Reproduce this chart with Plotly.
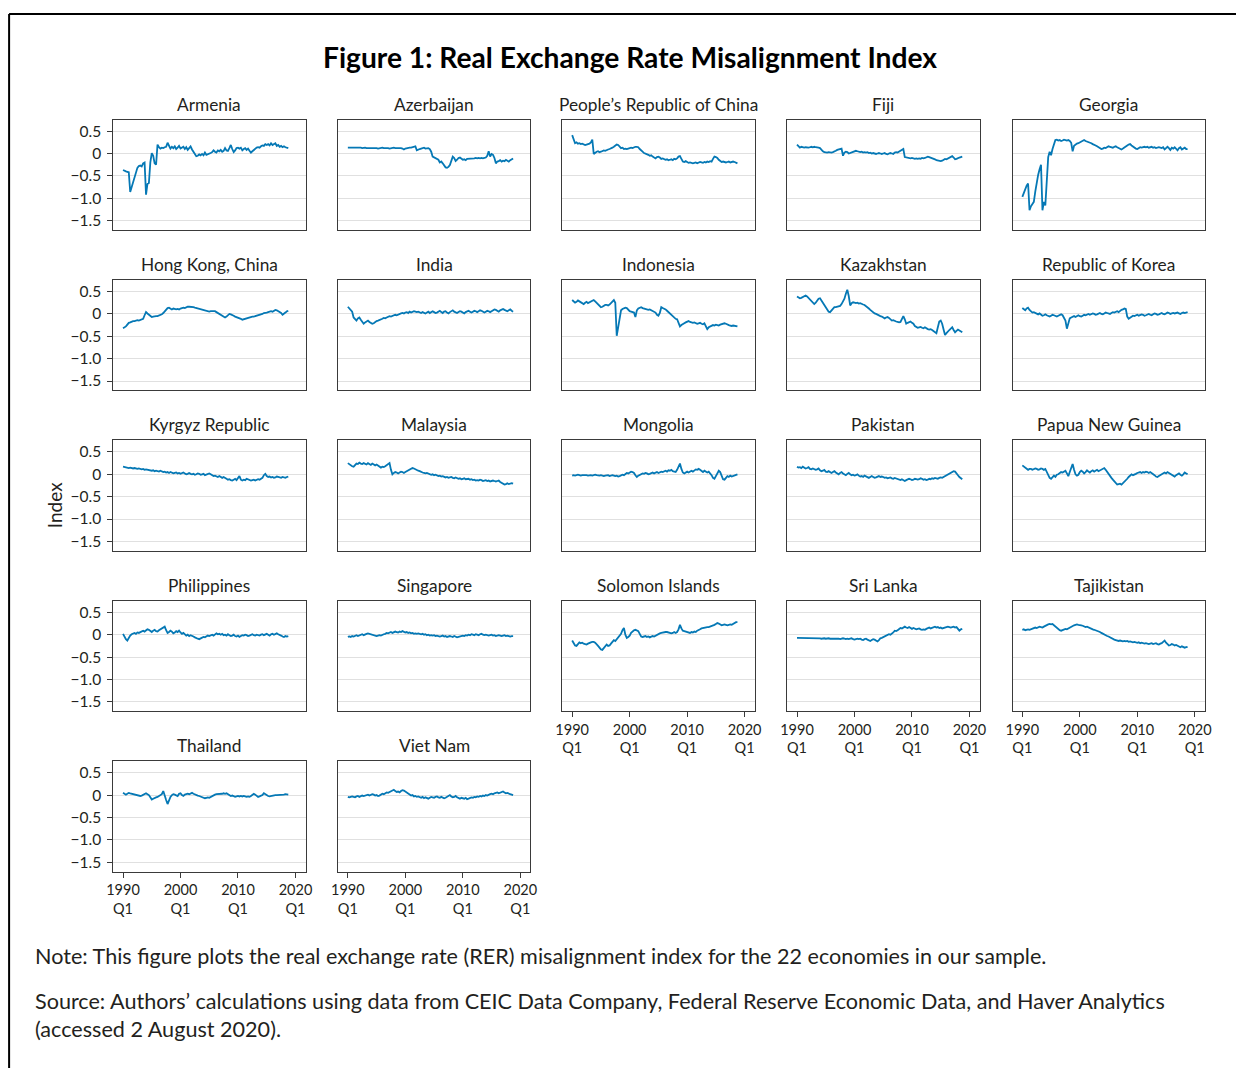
import plotly.graph_objects as go

W, H = 1243, 1068
# horizontal placement: page x = PAGE_X0 + PAGE_SX * figure x
PAGE_X0 = 7.9
PAGE_SX = 0.9873

# Quarterly periods 1990Q1 .. 2018Q4
periods = [f"{y}Q{q}" for y in range(1990, 2019) for q in range(1, 5)]

economies = [
    "Armenia", "Azerbaijan", "People’s Republic of China", "Fiji", "Georgia",
    "Hong Kong, China", "India", "Indonesia", "Kazakhstan", "Republic of Korea",
    "Kyrgyz Republic", "Malaysia", "Mongolia", "Pakistan", "Papua New Guinea",
    "Philippines", "Singapore", "Solomon Islands", "Sri Lanka", "Tajikistan",
    "Thailand", "Viet Nam",
]

armenia = [
    -0.37, -0.39, -0.40, -0.41, -0.42, -0.86, -0.75, -0.67, -0.55, -0.42, -0.32, -0.28,
    -0.27, -0.29, -0.22, -0.20, -0.92, -0.68, -0.66, -0.20, 0.01, -0.05, -0.22, -0.25,
    0.20, 0.14, 0.11, 0.13, 0.12, 0.14, 0.15, 0.24, 0.16, 0.11, 0.15, 0.12,
    0.16, 0.10, 0.13, 0.17, 0.11, 0.13, 0.15, 0.10, 0.14, 0.08, 0.12, 0.16,
    0.09, 0.04, -0.03, -0.06, -0.05, -0.02, -0.04, -0.01, -0.04, 0.02, -0.03, -0.02,
    0.00, 0.01, 0.03, 0.07, 0.04, 0.02, 0.07, 0.05, 0.08, 0.04, 0.06, 0.12,
    0.07, 0.06, 0.12, 0.19, 0.10, 0.03, 0.07, 0.12, 0.13, 0.11, 0.13, 0.07,
    0.10, 0.12, 0.08, 0.11, 0.06, 0.02, 0.05, 0.08, 0.10, 0.13, 0.14, 0.13,
    0.16, 0.18, 0.17, 0.21, 0.19, 0.21, 0.18, 0.23, 0.19, 0.21, 0.23, 0.17,
    0.19, 0.15, 0.17, 0.14, 0.16, 0.14, 0.13, 0.12,
]
azerbaijan = [
    0.13, 0.13, 0.13, 0.14, 0.13, 0.13, 0.13, 0.14, 0.13, 0.13, 0.12, 0.13,
    0.13, 0.12, 0.12, 0.13, 0.12, 0.12, 0.13, 0.13, 0.12, 0.11, 0.12, 0.13,
    0.13, 0.12, 0.12, 0.13, 0.12, 0.11, 0.12, 0.12, 0.13, 0.12, 0.12, 0.13,
    0.12, 0.12, 0.11, 0.09, 0.11, 0.12, 0.12, 0.13, 0.13, 0.14, 0.15, 0.16,
    0.07, 0.09, 0.10, 0.11, 0.12, 0.13, 0.11, 0.12, 0.12, 0.10, 0.04, -0.07,
    -0.09, -0.11, -0.13, -0.14, -0.20, -0.18, -0.22, -0.28, -0.31, -0.32, -0.30, -0.26,
    -0.15, -0.07, -0.10, -0.17, -0.14, -0.10, -0.09, -0.12, -0.14, -0.13, -0.15, -0.12,
    -0.12, -0.11, -0.11, -0.12, -0.11, -0.10, -0.11, -0.10, -0.11, -0.10, -0.11, -0.10,
    -0.09, -0.05, 0.05, -0.07, -0.01, -0.03, -0.10, -0.22, -0.18, -0.17, -0.15, -0.18,
    -0.16, -0.17, -0.14, -0.16, -0.18, -0.15, -0.13, -0.11,
]
prc = [
    0.41, 0.33, 0.23, 0.25, 0.22, 0.23, 0.21, 0.22, 0.20, 0.19, 0.20, 0.21,
    0.22, 0.25, 0.31, -0.01, 0.02, 0.04, 0.05, 0.03, 0.04, 0.05, 0.07, 0.06,
    0.08, 0.09, 0.10, 0.11, 0.13, 0.15, 0.17, 0.20, 0.19, 0.14, 0.12, 0.13,
    0.10, 0.11, 0.10, 0.11, 0.12, 0.13, 0.12, 0.14, 0.15, 0.15, 0.14, 0.10,
    0.06, 0.04, 0.01, 0.00, -0.02, -0.03, -0.05, -0.04, -0.07, -0.10, -0.11, -0.08,
    -0.07, -0.09, -0.12, -0.11, -0.13, -0.14, -0.13, -0.15, -0.14, -0.13, -0.15, -0.12,
    -0.13, -0.11, -0.07, -0.06, -0.12, -0.18, -0.19, -0.17, -0.19, -0.21, -0.20, -0.21,
    -0.22, -0.21, -0.20, -0.22, -0.21, -0.19, -0.20, -0.21, -0.19, -0.20, -0.18, -0.19,
    -0.17, -0.18, -0.12, -0.07, -0.08, -0.10, -0.14, -0.17, -0.19, -0.18, -0.19, -0.20,
    -0.19, -0.18, -0.20, -0.19, -0.18, -0.19, -0.21, -0.22,
]
fiji = [
    0.20, 0.15, 0.13, 0.15, 0.14, 0.13, 0.14, 0.13, 0.13, 0.14, 0.15, 0.14,
    0.15, 0.14, 0.14, 0.13, 0.12, 0.08, 0.05, 0.03, 0.02, 0.02, 0.03, 0.02,
    0.02, 0.03, 0.04, 0.06, 0.08, 0.09, 0.10, 0.11, -0.05, 0.02, 0.04, 0.03,
    0.00, 0.01, 0.02, 0.04, 0.05, 0.06, 0.05, 0.04, 0.03, 0.04, 0.02, 0.03,
    0.02, 0.03, 0.01, 0.02, 0.00, 0.01, 0.00, -0.01, 0.00, 0.01, 0.00, -0.01,
    0.00, 0.01, -0.01, -0.02, 0.00, 0.01, 0.00, -0.01, 0.02, 0.03, 0.02, 0.04,
    0.06, 0.08, 0.10, -0.08, -0.09, -0.10, -0.10, -0.11, -0.10, -0.11, -0.12, -0.11,
    -0.12, -0.11, -0.12, -0.10, -0.11, -0.10, -0.08, -0.07, -0.08, -0.09, -0.11, -0.12,
    -0.13, -0.15, -0.16, -0.17, -0.17, -0.16, -0.13, -0.12, -0.13, -0.11, -0.09, -0.07,
    -0.06, -0.09, -0.13, -0.12, -0.10, -0.09, -0.08, -0.07,
]
georgia = [
    -0.97, -0.88, -0.80, -0.72, -0.67, -1.27, -1.18, -1.12, -1.08, -0.85, -0.60, -0.48,
    -0.35, -0.25, -1.27, -1.08, -1.16, -0.52, -0.08, 0.04, -0.04, 0.10, 0.22, 0.30,
    0.31, 0.29, 0.30, 0.28, 0.29, 0.31, 0.30, 0.29, 0.30, 0.28, 0.24, 0.05,
    0.17, 0.20, 0.22, 0.23, 0.25, 0.27, 0.29, 0.30, 0.28, 0.27, 0.25, 0.24,
    0.23, 0.21, 0.20, 0.18, 0.16, 0.14, 0.12, 0.10, 0.11, 0.13, 0.12, 0.14,
    0.16, 0.15, 0.14, 0.13, 0.15, 0.16, 0.14, 0.12, 0.10, 0.09, 0.11, 0.14,
    0.16, 0.18, 0.20, 0.21, 0.18, 0.15, 0.12, 0.11, 0.10, 0.12, 0.14, 0.13,
    0.14, 0.15, 0.14, 0.15, 0.13, 0.14, 0.15, 0.13, 0.14, 0.12, 0.13, 0.14,
    0.13, 0.12, 0.14, 0.09, 0.12, 0.15, 0.12, 0.08, 0.13, 0.11, 0.14, 0.10,
    0.07, 0.12, 0.14, 0.09, 0.11, 0.13, 0.10, 0.10,
]
hong_kong = [
    -0.32, -0.30, -0.28, -0.24, -0.20, -0.19, -0.17, -0.16, -0.16, -0.15, -0.14, -0.15,
    -0.13, -0.12, -0.11, -0.03, 0.04, 0.01, -0.02, -0.05, -0.07, -0.06, -0.05, -0.05,
    -0.05, -0.04, -0.03, -0.01, 0.02, 0.06, 0.10, 0.13, 0.14, 0.11, 0.10, 0.12,
    0.11, 0.10, 0.11, 0.10, 0.12, 0.13, 0.14, 0.13, 0.15, 0.16, 0.16, 0.16,
    0.15, 0.15, 0.14, 0.13, 0.13, 0.12, 0.11, 0.10, 0.09, 0.08, 0.06, 0.05,
    0.05, 0.06, 0.06, 0.05, 0.06, 0.04, 0.02, 0.00, -0.02, -0.05, -0.07, -0.08,
    -0.06, -0.02, 0.00, -0.01, -0.02, -0.04, -0.06, -0.07, -0.09, -0.10, -0.11, -0.13,
    -0.12, -0.11, -0.09, -0.08, -0.08, -0.07, -0.06, -0.06, -0.05, -0.04, -0.04, -0.03,
    -0.02, 0.00, 0.02, 0.02, 0.03, 0.04, 0.05, 0.06, 0.05, 0.07, 0.09, 0.08,
    0.06, 0.05, 0.02, -0.02, 0.00, 0.03, 0.06, 0.07,
]
india = [
    0.16, 0.13, 0.10, 0.05, -0.08, -0.12, -0.15, -0.10, -0.08, -0.13, -0.18, -0.22,
    -0.19, -0.17, -0.15, -0.18, -0.20, -0.22, -0.21, -0.18, -0.16, -0.15, -0.14, -0.12,
    -0.11, -0.09, -0.10, -0.08, -0.07, -0.05, -0.06, -0.04, -0.03, -0.02, -0.03, -0.01,
    0.00, 0.01, 0.02, 0.01, 0.03, 0.04, 0.02, 0.05, 0.03, 0.04, 0.06, 0.05,
    0.04, 0.05, 0.03, 0.02, 0.04, 0.03, 0.01, 0.03, 0.05, 0.02, 0.04, 0.06,
    0.04, 0.02, 0.03, 0.05, 0.07, 0.04, 0.02, 0.05, 0.06, 0.03, 0.01, 0.04,
    0.06, 0.08, 0.05, 0.03, 0.02, 0.04, 0.06, 0.05, 0.03, 0.01, 0.04, 0.06,
    0.07, 0.05, 0.03, 0.05, 0.07, 0.06, 0.04, 0.06, 0.08, 0.07, 0.05, 0.03,
    0.05, 0.07, 0.06, 0.04, 0.06, 0.08, 0.10, 0.09, 0.07, 0.05, 0.08, 0.10,
    0.11, 0.09, 0.07, 0.06, 0.08, 0.10, 0.07, 0.05,
]
indonesia = [
    0.31, 0.28, 0.25, 0.27, 0.30, 0.28, 0.26, 0.24, 0.22, 0.25, 0.27, 0.24,
    0.26, 0.28, 0.30, 0.31, 0.28, 0.25, 0.22, 0.18, 0.15, 0.16, 0.18, 0.20,
    0.20, 0.19, 0.21, 0.24, 0.28, 0.31, 0.25, -0.49, -0.30, -0.05, 0.08, 0.11,
    0.13, 0.14, 0.13, 0.09, 0.06, 0.05, 0.04, 0.03, -0.07, 0.08, 0.12, 0.14,
    0.15, 0.13, 0.12, 0.11, 0.10, 0.09, 0.10, 0.08, 0.06, 0.05, 0.03, -0.02,
    -0.04, 0.02, 0.15, 0.13, 0.12, 0.10, 0.07, 0.04, 0.01, -0.02, -0.06, -0.10,
    -0.11, -0.12, -0.20, -0.28, -0.25, -0.22, -0.21, -0.19, -0.17, -0.16, -0.18, -0.19,
    -0.20, -0.19, -0.21, -0.22, -0.21, -0.20, -0.22, -0.23, -0.21, -0.27, -0.34, -0.30,
    -0.28, -0.26, -0.25, -0.26, -0.24, -0.25, -0.26, -0.24, -0.23, -0.22, -0.21, -0.22,
    -0.24, -0.25, -0.26, -0.27, -0.26, -0.27, -0.28, -0.28,
]
kazakhstan = [
    0.39, 0.37, 0.35, 0.36, 0.38, 0.40, 0.41, 0.39, 0.36, 0.33, 0.29, 0.26,
    0.22, 0.25, 0.30, 0.34, 0.35, 0.31, 0.25, 0.20, 0.14, 0.08, 0.05, 0.04,
    0.08, 0.12, 0.15, 0.15, 0.16, 0.17, 0.18, 0.22, 0.27, 0.34, 0.45, 0.54,
    0.40, 0.19, 0.24, 0.26, 0.25, 0.24, 0.25, 0.23, 0.24, 0.22, 0.21, 0.20,
    0.18, 0.15, 0.12, 0.09, 0.06, 0.03, 0.01, 0.00, -0.02, -0.04, -0.05, -0.06,
    -0.09, -0.10, -0.08, -0.07, -0.09, -0.13, -0.15, -0.14, -0.16, -0.17, -0.18, -0.19,
    -0.18, -0.10, -0.05, -0.12, -0.22, -0.20, -0.18, -0.17, -0.20, -0.22, -0.27, -0.30,
    -0.31, -0.30, -0.29, -0.31, -0.32, -0.30, -0.33, -0.34, -0.35, -0.34, -0.36, -0.38,
    -0.40, -0.43, -0.30, -0.17, -0.15, -0.22, -0.35, -0.47, -0.43, -0.38, -0.36, -0.33,
    -0.30, -0.36, -0.41, -0.38, -0.35, -0.37, -0.40, -0.41,
]
korea = [
    0.13, 0.10, 0.08, 0.12, 0.14, 0.09, 0.05, 0.03, 0.04, 0.02, 0.00, -0.01,
    0.01, -0.02, -0.04, -0.03, -0.01, -0.03, -0.05, -0.06, -0.04, -0.02, -0.03, -0.05,
    -0.06, -0.04, -0.02, -0.01, -0.03, -0.08, -0.15, -0.33, -0.18, -0.10, -0.08, -0.06,
    -0.05, -0.07, -0.04, -0.03, -0.05, -0.06, -0.04, -0.02, -0.03, -0.01, 0.00, -0.02,
    -0.01, 0.01, 0.00, -0.02, -0.01, 0.01, 0.02, 0.00, -0.01, 0.01, 0.03, 0.02,
    0.01, 0.00, 0.02, 0.04, 0.03, 0.05, 0.06, 0.04, 0.07, 0.09, 0.10, 0.12,
    0.11, -0.06, -0.11, -0.08, -0.06, -0.04, -0.05, -0.03, -0.02, -0.04, -0.03, -0.01,
    -0.02, -0.04, -0.03, -0.01, 0.00, -0.02, -0.03, -0.01, 0.01, 0.00, -0.02, -0.01,
    0.01, 0.02, 0.00, -0.01, 0.01, 0.03, 0.02, 0.00, 0.01, 0.02, 0.01, 0.02,
    0.03, 0.01, 0.00, 0.02, 0.03, 0.02, 0.03, 0.04,
]
kyrgyz = [
    0.17, 0.16, 0.15, 0.15, 0.14, 0.15, 0.14, 0.13, 0.14, 0.13, 0.12, 0.13,
    0.12, 0.11, 0.12, 0.10, 0.11, 0.10, 0.10, 0.09, 0.08, 0.09, 0.07, 0.08,
    0.07, 0.06, 0.08, 0.06, 0.05, 0.06, 0.04, 0.05, 0.03, 0.05, 0.04, 0.02,
    0.03, 0.04, 0.02, 0.03, 0.01, 0.02, 0.04, 0.02, 0.00, 0.01, 0.03, 0.01,
    0.00, 0.01, -0.01, 0.00, 0.02, 0.01, -0.01, 0.00, 0.01, -0.02, -0.01, 0.00,
    0.02, 0.00, -0.02, -0.04, -0.03, -0.05, -0.06, -0.04, -0.07, -0.08, -0.06, -0.09,
    -0.10, -0.12, -0.11, -0.13, -0.14, -0.12, -0.10, -0.13, -0.08, -0.04, -0.12, -0.14,
    -0.12, -0.13, -0.10, -0.11, -0.12, -0.14, -0.13, -0.12, -0.14, -0.13, -0.11, -0.12,
    -0.10, -0.08, -0.02, 0.01, -0.04, -0.06, -0.05, -0.07, -0.06, -0.08, -0.07, -0.05,
    -0.06, -0.07, -0.08, -0.06, -0.07, -0.08, -0.06, -0.05,
]
malaysia = [
    0.25, 0.22, 0.20, 0.18, 0.17, 0.21, 0.24, 0.23, 0.26, 0.24, 0.23, 0.25,
    0.24, 0.22, 0.25, 0.23, 0.21, 0.24, 0.22, 0.20, 0.22, 0.19, 0.17, 0.15,
    0.17, 0.16, 0.18, 0.21, 0.24, 0.25, 0.10, 0.00, 0.03, 0.05, 0.04, 0.02,
    0.04, 0.06, 0.05, 0.03, 0.05, 0.07, 0.08, 0.10, 0.12, 0.14, 0.13, 0.11,
    0.10, 0.08, 0.07, 0.05, 0.04, 0.03, 0.02, 0.03, 0.01, 0.00, -0.01, 0.00,
    -0.02, -0.01, -0.03, -0.04, -0.03, -0.05, -0.04, -0.06, -0.07, -0.06, -0.08, -0.07,
    -0.06, -0.08, -0.09, -0.07, -0.08, -0.10, -0.09, -0.11, -0.10, -0.09, -0.11, -0.10,
    -0.10, -0.12, -0.11, -0.13, -0.12, -0.14, -0.13, -0.14, -0.12, -0.13, -0.15, -0.14,
    -0.13, -0.15, -0.14, -0.16, -0.15, -0.14, -0.15, -0.16, -0.15, -0.14, -0.17, -0.19,
    -0.21, -0.23, -0.22, -0.20, -0.22, -0.21, -0.20, -0.21,
]
mongolia = [
    -0.03, -0.02, -0.03, -0.02, -0.01, -0.02, -0.03, -0.02, -0.02, -0.01, -0.02, -0.03,
    -0.02, -0.02, -0.03, -0.02, -0.01, -0.02, -0.03, -0.03, -0.02, -0.03, -0.04, -0.03,
    -0.03, -0.02, -0.04, -0.03, -0.02, -0.03, -0.04, -0.03, -0.05, -0.04, -0.03, -0.01,
    -0.02, 0.01, 0.03, 0.02, 0.04, 0.06, 0.05, 0.03, -0.02, -0.06, -0.03, -0.01,
    0.00, 0.02, 0.01, 0.03, 0.02, 0.00, 0.01, 0.03, 0.04, 0.02, 0.03, 0.05,
    0.03, 0.04, 0.06, 0.05, 0.07, 0.08, 0.06, 0.09, 0.08, 0.10, 0.07, 0.06,
    0.05, 0.10, 0.18, 0.24, 0.12, 0.04, 0.02, 0.05, 0.06, 0.04, 0.07, 0.08,
    0.06, 0.09, 0.11, 0.10, 0.12, 0.10, 0.07, 0.05, 0.08, 0.06, 0.04, 0.06,
    0.03, -0.02, -0.08, -0.10, -0.04, 0.02, 0.08, 0.05, -0.06, -0.11, -0.12, -0.08,
    -0.04, -0.06, -0.03, -0.05, -0.04, -0.02, -0.01, 0.00,
]
pakistan = [
    0.17, 0.15, 0.16, 0.14, 0.17, 0.15, 0.13, 0.14, 0.16, 0.12, 0.11, 0.13,
    0.12, 0.10, 0.11, 0.13, 0.09, 0.07, 0.08, 0.10, 0.06, 0.05, 0.07, 0.04,
    0.03, 0.05, 0.07, 0.04, 0.02, 0.00, 0.03, 0.05, 0.02, 0.00, -0.02, 0.01,
    0.03, 0.00, -0.02, -0.01, -0.03, -0.02, 0.00, -0.03, -0.05, -0.04, -0.06, -0.03,
    -0.05, -0.07, -0.08, -0.06, -0.04, -0.06, -0.08, -0.07, -0.05, -0.04, -0.06, -0.05,
    -0.06, -0.08, -0.07, -0.09, -0.08, -0.07, -0.09, -0.10, -0.08, -0.09, -0.11, -0.12,
    -0.13, -0.11, -0.14, -0.15, -0.13, -0.12, -0.10, -0.11, -0.13, -0.12, -0.10, -0.11,
    -0.12, -0.11, -0.09, -0.10, -0.12, -0.11, -0.13, -0.12, -0.10, -0.11, -0.09, -0.10,
    -0.08, -0.09, -0.10, -0.08, -0.07, -0.08, -0.06, -0.05, -0.03, -0.01, 0.02, 0.04,
    0.05, 0.07, 0.06, 0.03, -0.02, -0.06, -0.09, -0.11,
]
png = [
    0.20, 0.17, 0.14, 0.12, 0.10, 0.12, 0.12, 0.10, 0.11, 0.13, 0.12, 0.10,
    0.11, 0.13, 0.12, 0.10, 0.12, 0.06, -0.02, -0.08, -0.10, -0.05, -0.03, -0.06,
    -0.01, 0.00, 0.03, 0.05, 0.04, 0.06, 0.08, 0.02, -0.04, 0.05, 0.15, 0.23,
    0.10, 0.00, -0.03, -0.01, 0.05, 0.08, 0.06, 0.02, 0.05, 0.09, 0.06, 0.04,
    0.07, 0.09, 0.06, 0.08, 0.10, 0.07, 0.09, 0.11, 0.12, 0.14, 0.10, 0.05,
    -0.01, -0.04, -0.08, -0.12, -0.16, -0.20, -0.23, -0.22, -0.21, -0.23, -0.20, -0.18,
    -0.15, -0.10, -0.06, -0.03, 0.00, -0.02, -0.01, 0.01, 0.03, 0.04, 0.05, 0.03,
    0.05, 0.04, 0.06, 0.05, 0.03, 0.05, 0.03, 0.01, -0.02, -0.05, -0.06, -0.04,
    -0.02, 0.00, 0.03, 0.04, 0.02, 0.05, 0.03, 0.01, -0.01, -0.03, -0.05, -0.02,
    0.00, 0.02, -0.01, -0.03, 0.00, 0.04, 0.02, 0.00,
]
philippines = [
    0.02, -0.05, -0.10, -0.13, -0.06, -0.02, 0.01, 0.03, 0.04, 0.02, 0.05, 0.04,
    0.06, 0.08, 0.09, 0.07, 0.10, 0.12, 0.11, 0.08, 0.06, 0.09, 0.11, 0.08,
    0.07, 0.10, 0.12, 0.14, 0.16, 0.18, 0.10, 0.04, 0.06, 0.09, 0.07, 0.03,
    0.05, 0.08, 0.06, 0.09, 0.05, 0.02, 0.04, 0.01, -0.02, 0.00, -0.03, -0.01,
    -0.02, -0.04, -0.06, -0.08, -0.09, -0.10, -0.08, -0.07, -0.05, -0.06, -0.04, -0.02,
    -0.03, -0.01, 0.00, -0.02, 0.01, 0.03, 0.01, 0.02, 0.00, 0.02, -0.01, 0.00,
    -0.02, 0.01, -0.01, -0.03, -0.02, 0.00, -0.03, -0.04, -0.02, -0.05, -0.03, -0.01,
    -0.02, 0.00, -0.01, -0.03, -0.02, 0.00, 0.01, -0.01, -0.02, 0.00, -0.01, -0.02,
    0.00, 0.01, -0.01, 0.00, 0.02, 0.00, -0.02, 0.01, 0.02, 0.00, 0.01, 0.03,
    0.01, 0.00, -0.02, -0.04, -0.05, -0.03, -0.04, -0.03,
]
singapore = [
    -0.05, -0.04, -0.05, -0.03, -0.04, -0.02, -0.01, -0.03, -0.02, 0.00, 0.01, -0.01,
    0.01, 0.02, 0.03, 0.02, 0.01, 0.00, -0.01, -0.02, -0.03, -0.02, -0.01, -0.02,
    0.00, 0.01, 0.02, 0.04, 0.03, 0.05, 0.06, 0.04, 0.05, 0.07, 0.06, 0.05,
    0.07, 0.06, 0.08, 0.07, 0.05, 0.06, 0.04, 0.05, 0.03, 0.04, 0.02, 0.03,
    0.02, 0.03, 0.02, 0.01, 0.02, 0.00, 0.01, -0.01, 0.00, -0.02, -0.01, -0.02,
    -0.01, -0.03, -0.02, -0.03, -0.04, -0.03, -0.02, -0.04, -0.03, -0.05, -0.04, -0.03,
    -0.04, -0.05, -0.03, -0.04, -0.06, -0.05, -0.04, -0.03, -0.02, -0.03, -0.01, -0.02,
    0.00, -0.01, 0.01, 0.00, -0.01, 0.01, 0.00, -0.01, 0.01, 0.02, 0.00, -0.01,
    0.00, -0.01, -0.02, -0.01, 0.00, -0.02, -0.01, -0.03, -0.02, -0.01, -0.02, -0.03,
    -0.02, -0.01, -0.03, -0.02, -0.03, -0.04, -0.03, -0.03,
]
solomon = [
    -0.13, -0.19, -0.24, -0.25, -0.20, -0.17, -0.19, -0.18, -0.20, -0.21, -0.22, -0.20,
    -0.18, -0.17, -0.16, -0.16, -0.18, -0.23, -0.25, -0.29, -0.33, -0.34, -0.30, -0.25,
    -0.22, -0.25, -0.24, -0.20, -0.16, -0.12, -0.14, -0.10, -0.05, -0.02, 0.02, 0.10,
    0.15, 0.00, -0.07, -0.05, -0.02, 0.04, 0.08, 0.10, 0.11, 0.10, 0.08, 0.02,
    -0.04, -0.05, -0.04, -0.03, -0.05, -0.04, -0.06, -0.05, -0.03, -0.04, -0.02, 0.00,
    0.02, 0.03, 0.04, 0.05, 0.06, 0.06, 0.06, 0.05, 0.04, 0.03, 0.04, 0.06,
    0.04, 0.06, 0.12, 0.22, 0.14, 0.09, 0.08, 0.07, 0.06, 0.05, 0.04, 0.06,
    0.05, 0.07, 0.06, 0.09, 0.10, 0.12, 0.14, 0.15, 0.15, 0.16, 0.17, 0.17,
    0.18, 0.19, 0.20, 0.22, 0.24, 0.26, 0.25, 0.22, 0.21, 0.22, 0.23, 0.22,
    0.21, 0.22, 0.23, 0.22, 0.24, 0.26, 0.28, 0.28,
]
sri_lanka = [
    -0.07, -0.07, -0.08, -0.07, -0.07, -0.08, -0.08, -0.07, -0.07, -0.08, -0.08, -0.07,
    -0.08, -0.08, -0.07, -0.08, -0.08, -0.09, -0.08, -0.08, -0.09, -0.08, -0.08, -0.09,
    -0.09, -0.08, -0.09, -0.09, -0.08, -0.09, -0.10, -0.09, -0.08, -0.09, -0.10, -0.09,
    -0.10, -0.09, -0.08, -0.10, -0.11, -0.10, -0.09, -0.10, -0.09, -0.11, -0.12, -0.10,
    -0.09, -0.11, -0.13, -0.14, -0.12, -0.10, -0.11, -0.13, -0.15, -0.12, -0.08, -0.07,
    -0.05, -0.03, -0.02, 0.00, 0.01, 0.00, 0.02, 0.05, 0.09, 0.08, 0.10, 0.13,
    0.15, 0.14, 0.17, 0.18, 0.16, 0.15, 0.17, 0.14, 0.13, 0.15, 0.13, 0.12,
    0.13, 0.14, 0.12, 0.11, 0.12, 0.11, 0.13, 0.15, 0.16, 0.14, 0.15, 0.17,
    0.18, 0.16, 0.17, 0.15, 0.16, 0.14, 0.15, 0.16, 0.17, 0.18, 0.17, 0.16,
    0.17, 0.18, 0.16, 0.17, 0.13, 0.09, 0.12, 0.13,
]
tajikistan = [
    0.11, 0.12, 0.10, 0.11, 0.12, 0.11, 0.12, 0.13, 0.15, 0.16, 0.15, 0.17,
    0.18, 0.17, 0.16, 0.18, 0.20, 0.22, 0.23, 0.24, 0.23, 0.24, 0.21, 0.17,
    0.14, 0.12, 0.10, 0.09, 0.11, 0.12, 0.13, 0.12, 0.14, 0.16, 0.18, 0.20,
    0.21, 0.22, 0.23, 0.22, 0.22, 0.21, 0.20, 0.19, 0.17, 0.18, 0.16, 0.15,
    0.14, 0.12, 0.11, 0.10, 0.09, 0.07, 0.06, 0.04, 0.02, 0.00, -0.02, -0.03,
    -0.04, -0.06, -0.08, -0.10, -0.11, -0.12, -0.13, -0.14, -0.13, -0.14, -0.15, -0.14,
    -0.15, -0.14, -0.16, -0.15, -0.16, -0.17, -0.16, -0.17, -0.18, -0.17, -0.19, -0.18,
    -0.19, -0.20, -0.19, -0.20, -0.21, -0.20, -0.19, -0.21, -0.20, -0.19, -0.21, -0.22,
    -0.20, -0.19, -0.16, -0.13, -0.18, -0.22, -0.24, -0.23, -0.21, -0.22, -0.24, -0.23,
    -0.25, -0.27, -0.28, -0.26, -0.27, -0.29, -0.28, -0.27,
]
thailand = [
    0.05, 0.03, 0.01, 0.03, 0.05, 0.04, 0.03, 0.02, 0.02, 0.01, 0.00, -0.01,
    -0.02, -0.01, 0.01, 0.03, 0.04, 0.02, 0.00, -0.05, -0.10, -0.08, -0.06, -0.05,
    -0.04, -0.02, 0.00, 0.02, 0.09, -0.04, -0.11, -0.20, -0.10, -0.04, 0.00, 0.02,
    0.01, -0.01, -0.02, 0.03, 0.04, 0.00, -0.02, 0.01, 0.02, 0.03, 0.02, 0.04,
    0.05, 0.03, 0.01, 0.00, -0.01, -0.02, -0.03, -0.04, -0.06, -0.07, -0.06, -0.05,
    -0.06, -0.04, -0.02, 0.00, 0.01, 0.02, 0.02, 0.03, 0.02, 0.03, 0.04, 0.03,
    0.04, 0.02, 0.00, -0.02, -0.01, -0.03, -0.04, -0.03, -0.02, -0.03, -0.02, -0.03,
    -0.02, -0.03, -0.04, -0.03, -0.04, -0.02, 0.00, 0.03, 0.01, -0.02, -0.04, -0.03,
    -0.02, 0.00, 0.04, 0.02, -0.01, -0.02, -0.03, -0.02, -0.02, -0.01, 0.00, 0.00,
    0.00, 0.00, 0.01, 0.01, 0.01, 0.02, 0.01, 0.01,
]
viet_nam = [
    -0.04, -0.05, -0.04, -0.03, -0.04, -0.05, -0.03, -0.02, -0.04, -0.03, -0.01, -0.02,
    -0.01, 0.00, 0.01, -0.01, 0.00, 0.02, 0.01, -0.01, 0.00, -0.02, -0.01, 0.01,
    0.03, 0.02, 0.04, 0.06, 0.05, 0.07, 0.09, 0.11, 0.12, 0.09, 0.07, 0.08,
    0.06, 0.09, 0.11, 0.10, 0.08, 0.05, 0.03, 0.01, -0.01, 0.00, -0.03, -0.02,
    -0.04, -0.03, -0.05, -0.06, -0.04, -0.07, -0.05, -0.06, -0.08, -0.06, -0.04, -0.05,
    -0.06, -0.04, -0.03, -0.05, -0.06, -0.04, -0.05, -0.07, -0.06, -0.04, -0.02, 0.00,
    -0.03, -0.05, -0.04, -0.02, -0.05, -0.07, -0.08, -0.06, -0.07, -0.08, -0.06, -0.09,
    -0.08, -0.07, -0.05, -0.06, -0.04, -0.05, -0.03, -0.04, -0.02, -0.03, -0.01, -0.02,
    0.00, -0.01, 0.01, 0.02, 0.03, 0.02, 0.04, 0.05, 0.06, 0.04, 0.05, 0.07,
    0.08, 0.06, 0.04, 0.05, 0.03, 0.02, 0.01, 0.00,
]

series = [
    armenia, azerbaijan, prc, fiji, georgia,
    hong_kong, india, indonesia, kazakhstan, korea,
    kyrgyz, malaysia, mongolia, pakistan, png,
    philippines, singapore, solomon, sri_lanka, tajikistan,
    thailand, viet_nam,
]

y_tick_vals = [0.5, 0, -0.5, -1.0, -1.5]
y_tick_text = ["0.5", "0", "−0.5", "−1.0", "−1.5"]
x_tick_vals = [1990, 2000, 2010, 2020]
x_tick_text = ["1990<br>Q1", "2000<br>Q1", "2010<br>Q1", "2020<br>Q1"]

title_text = "Figure 1: Real Exchange Rate Misalignment Index"
note_text = "Note: This figure plots the real exchange rate (RER) misalignment index for the 22 economies in our sample."
source_lines = [
    "Source: Authors’ calculations using data from CEIC Data Company, Federal Reserve Economic Data, and Haver Analytics",
    "(accessed 2 August 2020).",
]

# ---- styling ----
FONT = "Lato, 'Open Sans', sans-serif"
TEXT = "#231f20"
LINE = "#0578b5"
GRID = "#e0e0e0"
FRAME = "#3a3a3a"

# panel boxes in page pixels
col_left = [114, 338.5, 562.5, 787, 1012]
col_width = 192
row_top = [119.5, 279.9, 440.3, 600.7, 761.1]
row_height = 110.5


def fx(px):
    return (px - PAGE_X0) / PAGE_SX / W


def fy(py):
    return 1 - py / H


def to_decimal(period):
    year, q = period.split("Q")
    return int(year) + (int(q) - 1) / 4


xs = [to_decimal(p) for p in periods]

fig = go.Figure()
annotations = []
n = len(series)
for k, (name, vals) in enumerate(zip(economies, series)):
    r, c = divmod(k, 5)
    ax = "" if k == 0 else str(k + 1)
    below_exists = (k + 5) < n
    fig.add_trace(go.Scatter(
        x=xs[:len(vals)], y=vals, mode="lines",
        line=dict(color=LINE, width=1.8),
        xaxis="x" + ax, yaxis="y" + ax, showlegend=False, hoverinfo="skip",
    ))
    x0, x1 = col_left[c], col_left[c] + col_width
    y0, y1 = row_top[r], row_top[r] + row_height
    fig.layout["xaxis" + ax] = dict(
        domain=[fx(x0), fx(x1)], anchor="y" + ax,
        range=[1988.3, 2021.75], showgrid=False, zeroline=False,
        showline=True, mirror=True, linecolor=FRAME, linewidth=1,
        tickvals=x_tick_vals, ticktext=x_tick_text,
        showticklabels=not below_exists,
        ticks="" if below_exists else "outside", ticklen=5, tickcolor=FRAME,
        tickfont=dict(family=FONT, size=14.5, color=TEXT),
    )
    fig.layout["yaxis" + ax] = dict(
        domain=[fy(y1), fy(y0)], anchor="x" + ax,
        range=[-1.71, 0.76], showgrid=True, gridcolor=GRID, gridwidth=1,
        zeroline=False, showline=True, mirror=True, linecolor=FRAME, linewidth=1,
        tickvals=y_tick_vals, ticktext=y_tick_text,
        showticklabels=(c == 0),
        ticks="outside" if c == 0 else "", ticklen=5, tickcolor=FRAME,
        ticklabelstandoff=3,
        tickfont=dict(family=FONT, size=15.5, color=TEXT),
    )
    annotations.append(dict(
        text=name, x=fx((x0 + x1) / 2), y=fy(y0 - 3), xref="paper", yref="paper",
        xanchor="center", yanchor="bottom", showarrow=False,
        font=dict(family=FONT, size=17.3, color=TEXT),
    ))

annotations.append(dict(
    text="<b>" + title_text + "</b>", x=fx(630), y=fy(57), xref="paper", yref="paper",
    xanchor="center", yanchor="middle", showarrow=False,
    font=dict(family=FONT, size=28.2, color="#000000"),
))
annotations.append(dict(
    text="Index", x=fx(55), y=fy(505), xref="paper", yref="paper", textangle=-90,
    xanchor="center", yanchor="middle", showarrow=False,
    font=dict(family=FONT, size=19, color=TEXT),
))
annotations.append(dict(
    text=note_text, x=fx(34), y=fy(956), xref="paper", yref="paper",
    xanchor="left", yanchor="middle", showarrow=False, align="left",
    font=dict(family=FONT, size=21.6, color=TEXT),
))
annotations.append(dict(
    text="<br>".join(source_lines), x=fx(34), y=fy(986), xref="paper", yref="paper",
    xanchor="left", yanchor="top", showarrow=False, align="left",
    font=dict(family=FONT, size=21.6, color=TEXT),
))

shapes = [
    dict(type="line", xref="paper", yref="paper", x0=fx(10), x1=1, y0=fy(14), y1=fy(14),
         line=dict(color="#000000", width=2)),
    dict(type="line", xref="paper", yref="paper", x0=fx(10), x1=fx(10), y0=fy(14), y1=0,
         line=dict(color="#000000", width=2)),
]

fig.update_layout(
    width=W, height=H, margin=dict(l=0, r=0, t=0, b=0),
    paper_bgcolor="white", plot_bgcolor="white",
    annotations=annotations, shapes=shapes,
    font=dict(family=FONT, color=TEXT),
)

fig.write_html("out.html")
